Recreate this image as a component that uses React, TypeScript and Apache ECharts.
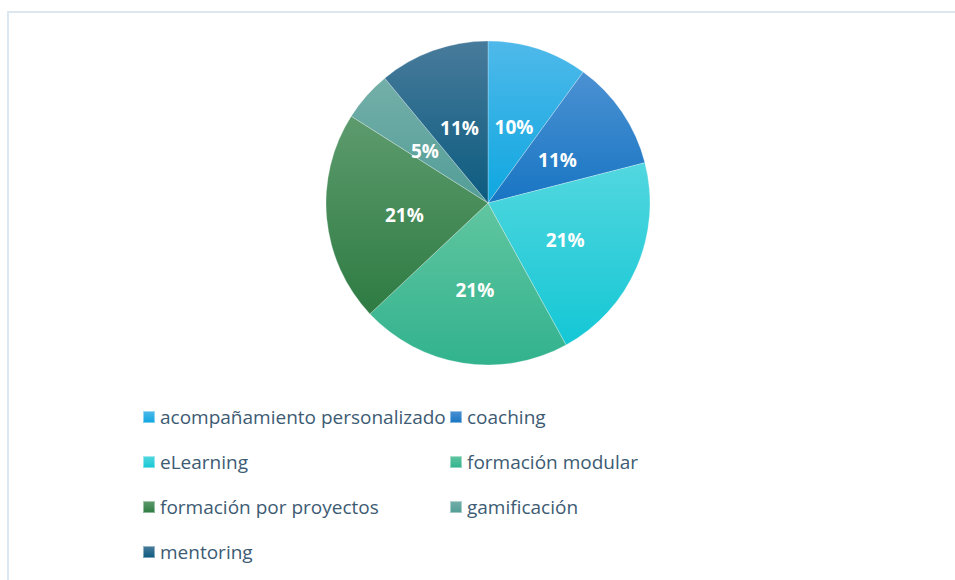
import React, { useEffect, useRef } from "react";
import * as echarts from "echarts";

const categories = [
  "acompañamiento personalizado",
  "coaching",
  "eLearning",
  "formación modular",
  "formación por proyectos",
  "gamificación",
  "mentoring",
];
const values = [10, 11, 21, 21, 21, 5, 11];
const topColors = ["#4fb9ea", "#4b91d2", "#52d7df", "#60c6a0", "#5d9b6d", "#74afa9", "#487b9b"];
const bottomColors = ["#0ea7e0", "#1875c3", "#14c7d5", "#32b28e", "#2e7b43", "#539d97", "#0b5b7f"];
const leftColumn = ["acompañamiento personalizado", "eLearning", "formación por proyectos", "mentoring"];
const rightColumn = ["coaching", "formación modular", "gamificación"];

export default function App() {
  const ref = useRef<HTMLDivElement>(null);
  useEffect(() => {
    if (!ref.current) return;
    const chart = echarts.init(ref.current, null, { renderer: "svg" });
    const data = categories.map((name, i) => ({
      name,
      value: values[i],
      itemStyle: {
        color: new echarts.graphic.LinearGradient(0, 0, 0, 1, [
          { offset: 0, color: topColors[i] },
          { offset: 1, color: bottomColors[i] },
        ]),
      },
    }));
    const legendText = {
      color: "#3d5b73",
      fontSize: 19,
      fontFamily: "Open Sans",
      lineHeight: 24,
    };
    const legendBase = {
      orient: "vertical",
      top: 405,
      padding: 0,
      itemWidth: 12,
      itemHeight: 12,
      itemGap: 21,
      icon: "rect",
      textStyle: legendText,
      selectedMode: false,
    };
    chart.setOption({
      animation: false,
      backgroundColor: "#ffffff",
      graphic: [
        {
          type: "rect",
          shape: { x: 8, y: 12, width: 1000, height: 700 },
          style: { fill: "none", stroke: "#dde7ef", lineWidth: 2 },
          silent: true,
        },
      ],
      legend: [
        { ...legendBase, left: 142, data: leftColumn },
        { ...legendBase, left: 449, data: rightColumn },
      ],
      series: [
        {
          type: "pie",
          center: [488, 203],
          radius: 162,
          startAngle: 90,
          clockwise: true,
          data,
          itemStyle: { borderColor: "rgba(255,255,255,0.45)", borderWidth: 0.6 },
          label: {
            show: true,
            position: "inside",
            formatter: "{c}%",
            color: "#ffffff",
            fontSize: 19,
            fontWeight: "bold",
            fontFamily: "Open Sans",
            offset: [0, 4],
          },
          labelLine: { show: false },
          emphasis: { disabled: true },
        },
      ],
    });
    return () => chart.dispose();
  }, []);
  return (
    <div
      ref={ref}
      style={{ position: "fixed", left: 0, top: 0, width: 955, height: 580 }}
    />
  );
}
